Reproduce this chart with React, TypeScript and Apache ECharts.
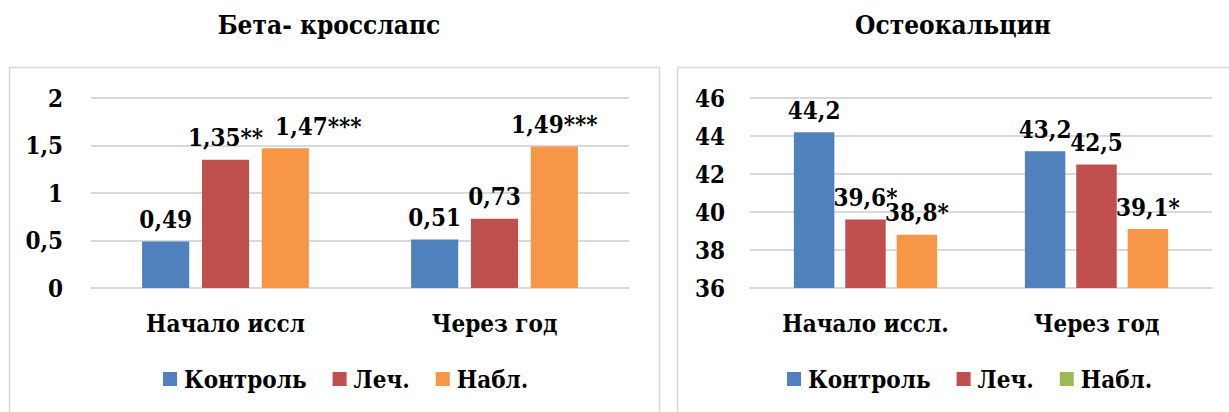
import React, { useEffect, useRef } from "react";
import * as echarts from "echarts";

const categoriesBeta = ["Начало иссл", "Через год"];
const categoriesOst = ["Начало иссл.", "Через год"];
const seriesNames = ["Контроль", "Леч.", "Набл."];

const betaControl = [0.49, 0.51];
const betaTreat = [1.35, 0.73];
const betaObs = [1.47, 1.49];
const betaControlMarks = ["", ""];
const betaTreatMarks = ["**", ""];
const betaObsMarks = ["***", "***"];

const ostControl = [44.2, 43.2];
const ostTreat = [39.6, 42.5];
const ostObs = [38.8, 39.1];
const ostControlMarks = ["", ""];
const ostTreatMarks = ["*", ""];
const ostObsMarks = ["*", "*"];

const titleBeta = "Бета- кросслапс";
const titleOst = "Остеокальцин";

const FONT = "'DejaVu Serif Condensed', 'DejaVu Serif', serif";
const COLORS = ["#4F81BD", "#C0504D", "#F79646"];
const LEGEND_GREEN = "#9BBB59";
const GRID_COLOR = "#D9D9D9";

const fmt = (v: number) => String(v).replace(".", ",");

export default function App() {
  const ref = useRef<HTMLDivElement>(null);
  useEffect(() => {
    if (!ref.current) return;
    const chart = echarts.init(ref.current, undefined, { renderer: "svg" });
    const textStyle = { fontFamily: FONT, fontWeight: "bold" as const, fontSize: 24, color: "#000" };

    const mkSeries = (
      name: string,
      data: (number | any)[],
      marks: string[],
      idx: number,
      axis: number
    ) => ({
      type: "bar",
      name,
      xAxisIndex: axis,
      yAxisIndex: axis,
      data,
      barGap: "27%",
      barCategoryGap: "38%",
      itemStyle: { color: COLORS[idx] },
      label: {
        show: true,
        position: "top",
        distance: 10,
        ...textStyle,
        formatter: (p: any) => fmt(p.value) + marks[p.dataIndex],
      },
    });

    const catAxis = (gridIndex: number, data: string[]) => ({
      type: "category",
      gridIndex,
      data,
      axisTick: { show: false },
      axisLine: { lineStyle: { color: GRID_COLOR, width: 2 } },
      axisLabel: { ...textStyle, margin: 23 },
    });
    const valAxis = (gridIndex: number, min: number, max: number, interval: number, margin: number) => ({
      type: "value",
      gridIndex,
      min,
      max,
      interval,
      axisLine: { show: false },
      axisTick: { show: false },
      splitLine: { lineStyle: { color: GRID_COLOR, width: 2 } },
      axisLabel: { ...textStyle, margin, formatter: (v: number) => fmt(v) },
    });

    chart.setOption({
      animation: false,
      backgroundColor: "#fff",
      grid: [
        { left: 91, width: 538, top: 98, height: 190 },
        { left: 750, width: 462, top: 98, height: 190 },
      ],
      xAxis: [catAxis(0, categoriesBeta), catAxis(1, categoriesOst)],
      yAxis: [valAxis(0, 0, 2, 0.5, 28), valAxis(1, 36, 46, 2, 25)],
      legend: [
        {
          data: seriesNames,
          left: 158,
          top: 362,
          icon: "rect",
          itemWidth: 14,
          itemHeight: 14,
          itemGap: 26,
          textStyle: { ...textStyle, padding: [0, 0, 0, 2] },
        },
        {
          data: [
            seriesNames[0],
            seriesNames[1],
            { name: seriesNames[2], itemStyle: { color: LEGEND_GREEN } },
          ],
          left: 782,
          top: 362,
          icon: "rect",
          itemWidth: 14,
          itemHeight: 14,
          itemGap: 26,
          textStyle: { ...textStyle, padding: [0, 0, 0, 2] },
        },
      ],
      series: [
        mkSeries(seriesNames[0], betaControl, betaControlMarks, 0, 0),
        mkSeries(seriesNames[1], betaTreat, betaTreatMarks, 1, 0),
        mkSeries(
          seriesNames[2],
          betaObs.map((v, i) => (i === 0 ? { value: v, label: { offset: [33, 0] } } : v)),
          betaObsMarks,
          2,
          0
        ),
        mkSeries(seriesNames[0], ostControl, ostControlMarks, 0, 1),
        mkSeries(seriesNames[1], ostTreat, ostTreatMarks, 1, 1),
        mkSeries(seriesNames[2], ostObs, ostObsMarks, 2, 1),
      ],
      graphic: [
        {
          type: "rect",
          shape: { x: 9.5, y: 67.5, width: 650, height: 400 },
          style: { fill: "none", stroke: GRID_COLOR, lineWidth: 1.5 },
          silent: true,
        },
        {
          type: "rect",
          shape: { x: 677.5, y: 67.5, width: 620, height: 400 },
          style: { fill: "none", stroke: GRID_COLOR, lineWidth: 1.5 },
          silent: true,
        },
        {
          type: "text",
          x: 329,
          y: 25,
          style: {
            text: titleBeta,
            font: `bold 26px ${FONT}`,
            fill: "#000",
            textAlign: "center",
            textVerticalAlign: "middle",
          },
        },
        {
          type: "text",
          x: 953,
          y: 25,
          style: {
            text: titleOst,
            font: `bold 26px ${FONT}`,
            fill: "#000",
            textAlign: "center",
            textVerticalAlign: "middle",
          },
        },
      ],
    });
    return () => chart.dispose();
  }, []);
  return (
    <div
      ref={ref}
      style={{ position: "fixed", left: 0, top: 0, width: 1229, height: 412 }}
    />
  );
}
